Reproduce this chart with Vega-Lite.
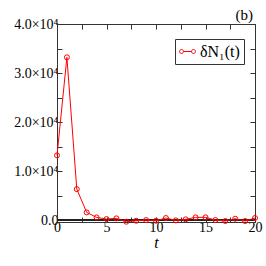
{
  "$schema": "https://vega.github.io/schema/vega-lite/v6.json",
  "width": 198,
  "height": 198,
  "autosize": {"type": "none"},
  "padding": {"left": 57, "top": 24, "right": 11, "bottom": 44},
  "background": "white",
  "title": {"text": "(b)", "anchor": "end", "frame": "group", "font": "Liberation Serif", "fontSize": 15, "fontWeight": "normal", "offset": 3, "dy": 9, "dx": -2, "color": "black"},
  "config": {
    "view": {"stroke": "#333", "strokeWidth": 1},
    "axis": {"domainColor": "#333", "tickColor": "#333", "grid": false, "labelFont": "Liberation Serif", "labelFontSize": 14, "labelColor": "black", "titleFont": "Liberation Serif", "titleColor": "black", "tickSize": -5, "labelFlush": false, "labelOverlap": false}
  },
  "data": {"values": [
    {"t": 0, "v": 13200, "s": "δN₁(t)"},
    {"t": 1, "v": 33200, "s": "δN₁(t)"},
    {"t": 2, "v": 6300, "s": "δN₁(t)"},
    {"t": 3, "v": 1560, "s": "δN₁(t)"},
    {"t": 4, "v": 540, "s": "δN₁(t)"},
    {"t": 5, "v": 200, "s": "δN₁(t)"},
    {"t": 6, "v": 340, "s": "δN₁(t)"},
    {"t": 7, "v": -340, "s": "δN₁(t)"},
    {"t": 8, "v": -140, "s": "δN₁(t)"},
    {"t": 9, "v": 0, "s": "δN₁(t)"},
    {"t": 10, "v": -140, "s": "δN₁(t)"},
    {"t": 11, "v": 410, "s": "δN₁(t)"},
    {"t": 12, "v": -70, "s": "δN₁(t)"},
    {"t": 13, "v": 140, "s": "δN₁(t)"},
    {"t": 14, "v": 550, "s": "δN₁(t)"},
    {"t": 15, "v": 550, "s": "δN₁(t)"},
    {"t": 16, "v": 0, "s": "δN₁(t)"},
    {"t": 17, "v": -200, "s": "δN₁(t)"},
    {"t": 18, "v": 270, "s": "δN₁(t)"},
    {"t": 19, "v": -200, "s": "δN₁(t)"},
    {"t": 20, "v": 410, "s": "δN₁(t)"}
  ]},
  "layer": [
    {
      "mark": {"type": "rule", "color": "#222", "strokeWidth": 1},
      "encoding": {"y": {"datum": 0, "type": "quantitative", "axis": null}}
    },
    {
      "mark": {"type": "line", "strokeWidth": 1},
      "encoding": {
        "x": {"field": "t", "type": "quantitative", "scale": {"domain": [0, 20], "nice": false, "zero": false},
          "axis": {"orient": "bottom", "values": [0, 2.5, 5, 7.5, 10, 12.5, 15, 17.5, 20], "labelExpr": "datum.value % 5 == 0 ? datum.label : ''", "title": "t", "titleFontStyle": "italic", "titleFontWeight": "normal", "titleFontSize": 16, "titlePadding": 0, "labelPadding": 3}},
        "y": {"field": "v", "type": "quantitative", "scale": {"domain": [-400, 40000], "nice": false, "zero": false},
          "axis": {"orient": "left", "values": [0, 5000, 10000, 15000, 20000, 25000, 30000, 35000, 40000], "labelExpr": "datum.value == 0 ? '0.0' : (datum.value % 10000 == 0 ? format(datum.value / 10000, '.1f') + '×10⁴' : '')", "title": null, "labelPadding": 4}},
        "color": {"field": "s", "type": "nominal", "scale": {"range": ["#ff0000"]},
          "legend": {"orient": "none", "legendX": 118, "legendY": 15, "title": null, "strokeColor": "#333", "padding": 4,
            "symbolType": "M-1,0 A0.25,0.25 0 1,1 -0.5,0 A0.25,0.25 0 1,1 -1,0 Z M-0.5,0 L0.5,0 M0.5,0 A0.25,0.25 0 1,1 1,0 A0.25,0.25 0 1,1 0.5,0 Z",
            "symbolSize": 256, "symbolStrokeColor": "#ff0000", "symbolFillColor": "transparent", "symbolStrokeWidth": 1,
            "labelFont": "Liberation Serif", "labelFontSize": 16, "labelColor": "black"}}
      }
    },
    {
      "mark": {"type": "point", "filled": false, "color": "#ff0000", "size": 25, "strokeWidth": 1, "opacity": 1},
      "encoding": {
        "x": {"field": "t", "type": "quantitative", "axis": null},
        "y": {"field": "v", "type": "quantitative", "axis": null}
      }
    },
    {
      "mark": {"type": "point", "opacity": 0},
      "encoding": {
        "x": {"field": "t", "type": "quantitative", "axis": {"orient": "top", "values": [0, 2.5, 5, 7.5, 10, 12.5, 15, 17.5, 20], "labels": false, "title": null}},
        "y": {"field": "v", "type": "quantitative", "axis": {"orient": "right", "values": [0, 5000, 10000, 15000, 20000, 25000, 30000, 35000, 40000], "labels": false, "title": null}}
      }
    }
  ],
  "resolve": {"axis": {"x": "independent", "y": "independent"}}
}
